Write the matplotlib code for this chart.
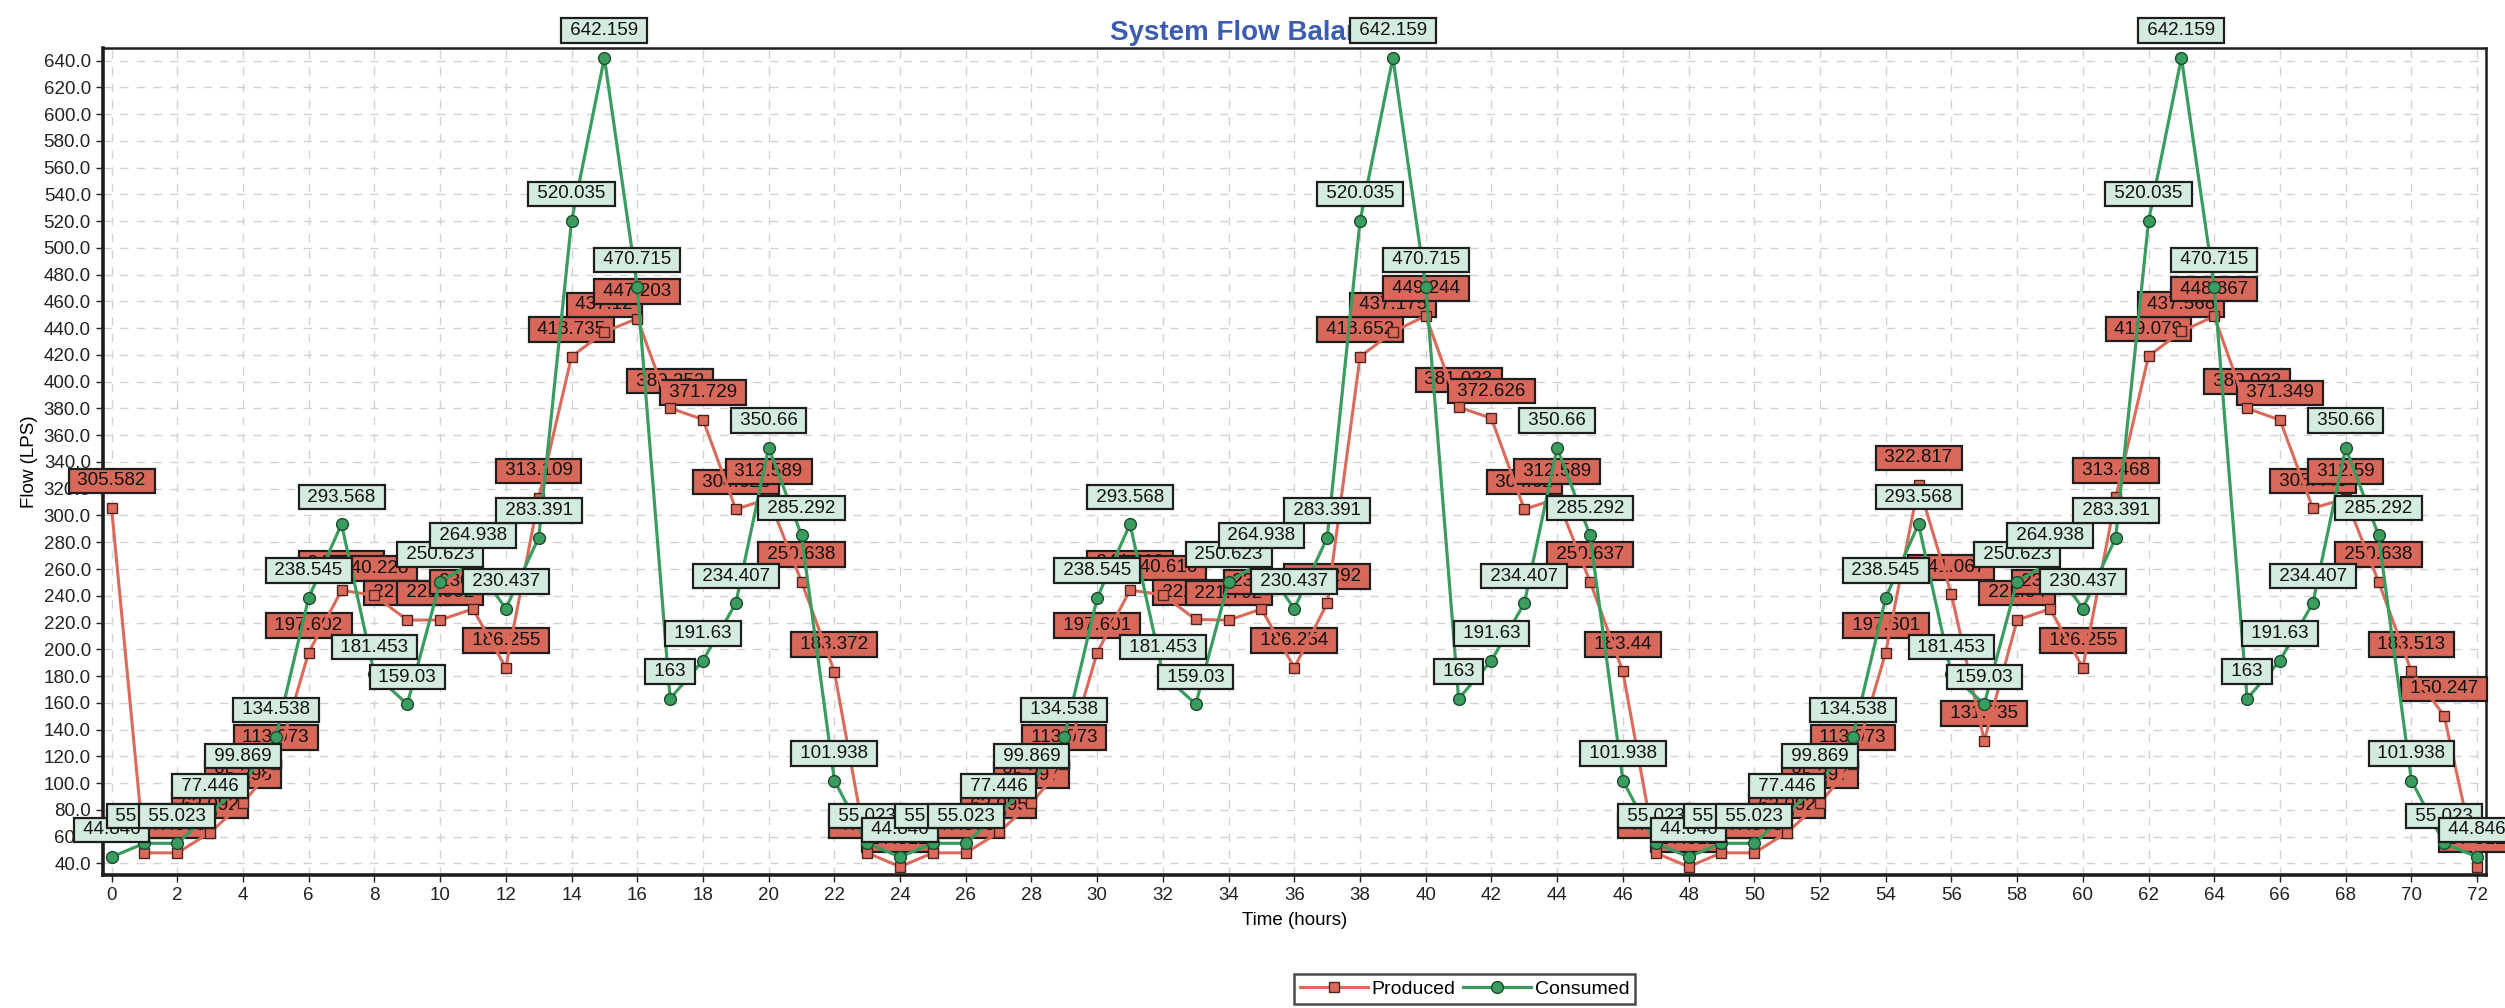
import matplotlib.pyplot as plt
from matplotlib.ticker import MultipleLocator, FormatStrFormatter

plt.rcParams['font.family'] = ['Liberation Sans', 'DejaVu Sans']

# hours on the x axis
hours = list(range(73))

# produced flow (LPS)
produced = [
    305.582, 47.873, 47.873, 63.092, 85.398, 113.973, 197.602, 244.167, 240.228, 221.846,
    221.902, 230.174, 186.255, 313.109, 418.735, 437.12, 447.203, 380.252, 371.729, 304.628,
    312.589, 250.638, 183.372, 47.873, 37.512, 47.873, 47.873, 63.095, 85.397, 113.973,
    197.601, 244.312, 240.616, 222.318, 221.792, 230.12, 186.254, 234.292, 418.652, 437.175,
    449.244, 381.023, 372.626, 304.62, 312.589, 250.637, 183.44, 47.873, 37.512, 47.873,
    47.873, 63.092, 85.397, 113.973, 197.601, 322.817, 241.067, 131.735, 221.84, 230.17,
    186.255, 313.468, 419.079, 437.568, 448.867, 380.023, 371.349, 305.443, 312.59, 250.638,
    183.513, 150.247, 37.512,
]

# consumed flow (LPS)
consumed = [
    44.846, 55.023, 55.023, 77.446, 99.869, 134.538, 238.545, 293.568, 181.453, 159.03,
    250.623, 264.938, 230.437, 283.391, 520.035, 642.159, 470.715, 163, 191.63, 234.407,
    350.66, 285.292, 101.938, 55.023, 44.846, 55.023, 55.023, 77.446, 99.869, 134.538,
    238.545, 293.568, 181.453, 159.03, 250.623, 264.938, 230.437, 283.391, 520.035, 642.159,
    470.715, 163, 191.63, 234.407, 350.66, 285.292, 101.938, 55.023, 44.846, 55.023,
    55.023, 77.446, 99.869, 134.538, 238.545, 293.568, 181.453, 159.03, 250.623, 264.938,
    230.437, 283.391, 520.035, 642.159, 470.715, 163, 191.63, 234.407, 350.66, 285.292,
    101.938, 55.023, 44.846,
]

RED_LINE = '#dc6a5b'
RED_BOX = '#d8685a'
GREEN_LINE = '#3a9c5f'
GREEN_BOX = '#d4ece0'
DARK = '#1e1e1e'


def fmt_value(v):
    s = '%.3f' % v
    return s.rstrip('0').rstrip('.')


def add_point_labels(ax, xs, ys, face, z):
    # 각 점 위에 값 박스 표시
    for x, y in zip(xs, ys):
        ax.annotate(' ' + fmt_value(y) + ' ', (x, y), xytext=(0, 19.5),
                    textcoords='offset points', ha='center', va='center',
                    fontsize=13.5, color='#111111', zorder=z,
                    bbox=dict(boxstyle='square,pad=0.2', fc=face, ec=DARK, lw=1.6))


fig = plt.figure(figsize=(25.05, 10.08), dpi=100)
ax = fig.add_axes([0.041, 0.1319, 0.9514, 0.8204])

ax.plot(hours, produced, color=RED_LINE, lw=2.2, marker='s', ms=7.5,
        mfc=RED_LINE, mec='#4a2520', mew=1.0, zorder=4, label='Produced')
ax.plot(hours, consumed, color=GREEN_LINE, lw=2.3, marker='o', ms=8.5,
        mfc=GREEN_LINE, mec='#1d4a2e', mew=1.0, zorder=4, label='Consumed')

add_point_labels(ax, hours, produced, RED_BOX, 3)
add_point_labels(ax, hours, consumed, GREEN_BOX, 5)

ax.set_xlim(-0.27, 72.27)
ax.set_ylim(31.3, 649.3)
ax.xaxis.set_major_locator(MultipleLocator(2))
ax.yaxis.set_major_locator(MultipleLocator(20))
ax.yaxis.set_major_formatter(FormatStrFormatter('%.1f'))
ax.tick_params(axis='both', labelsize=13.5, colors='#222222', length=5, width=1)

ax.grid(True, color='#d2d2d2', lw=1.0, linestyle=(0, (6, 6)))
ax.set_axisbelow(True)

for side in ['left', 'bottom']:
    ax.spines[side].set_linewidth(2.6)
for side in ['top', 'right']:
    ax.spines[side].set_linewidth(1.8)
for sp in ax.spines.values():
    sp.set_color(DARK)

ax.set_title('System Flow Balance', x=0.4824, pad=6, fontsize=20,
             fontweight='bold', color='#3a5cb2')
ax.set_xlabel('Time (hours)', fontsize=13.5, labelpad=6)
ax.set_ylabel('Flow (LPS)', fontsize=13.5, labelpad=4)

# 범례: 왼쪽 끝이 축 중앙에 오도록 배치
leg = fig.legend(loc='center left', bbox_to_anchor=(0.5166, 0.0188), ncol=2,
                 fontsize=14, frameon=True, fancybox=False, shadow=False,
                 handlelength=3.5, handletextpad=0.2, columnspacing=0.35,
                 borderpad=0.3, borderaxespad=0)
leg.get_frame().set_edgecolor(DARK)
leg.get_frame().set_linewidth(1.8)

fig.savefig('out.png', dpi=100)
plt.close(fig)
